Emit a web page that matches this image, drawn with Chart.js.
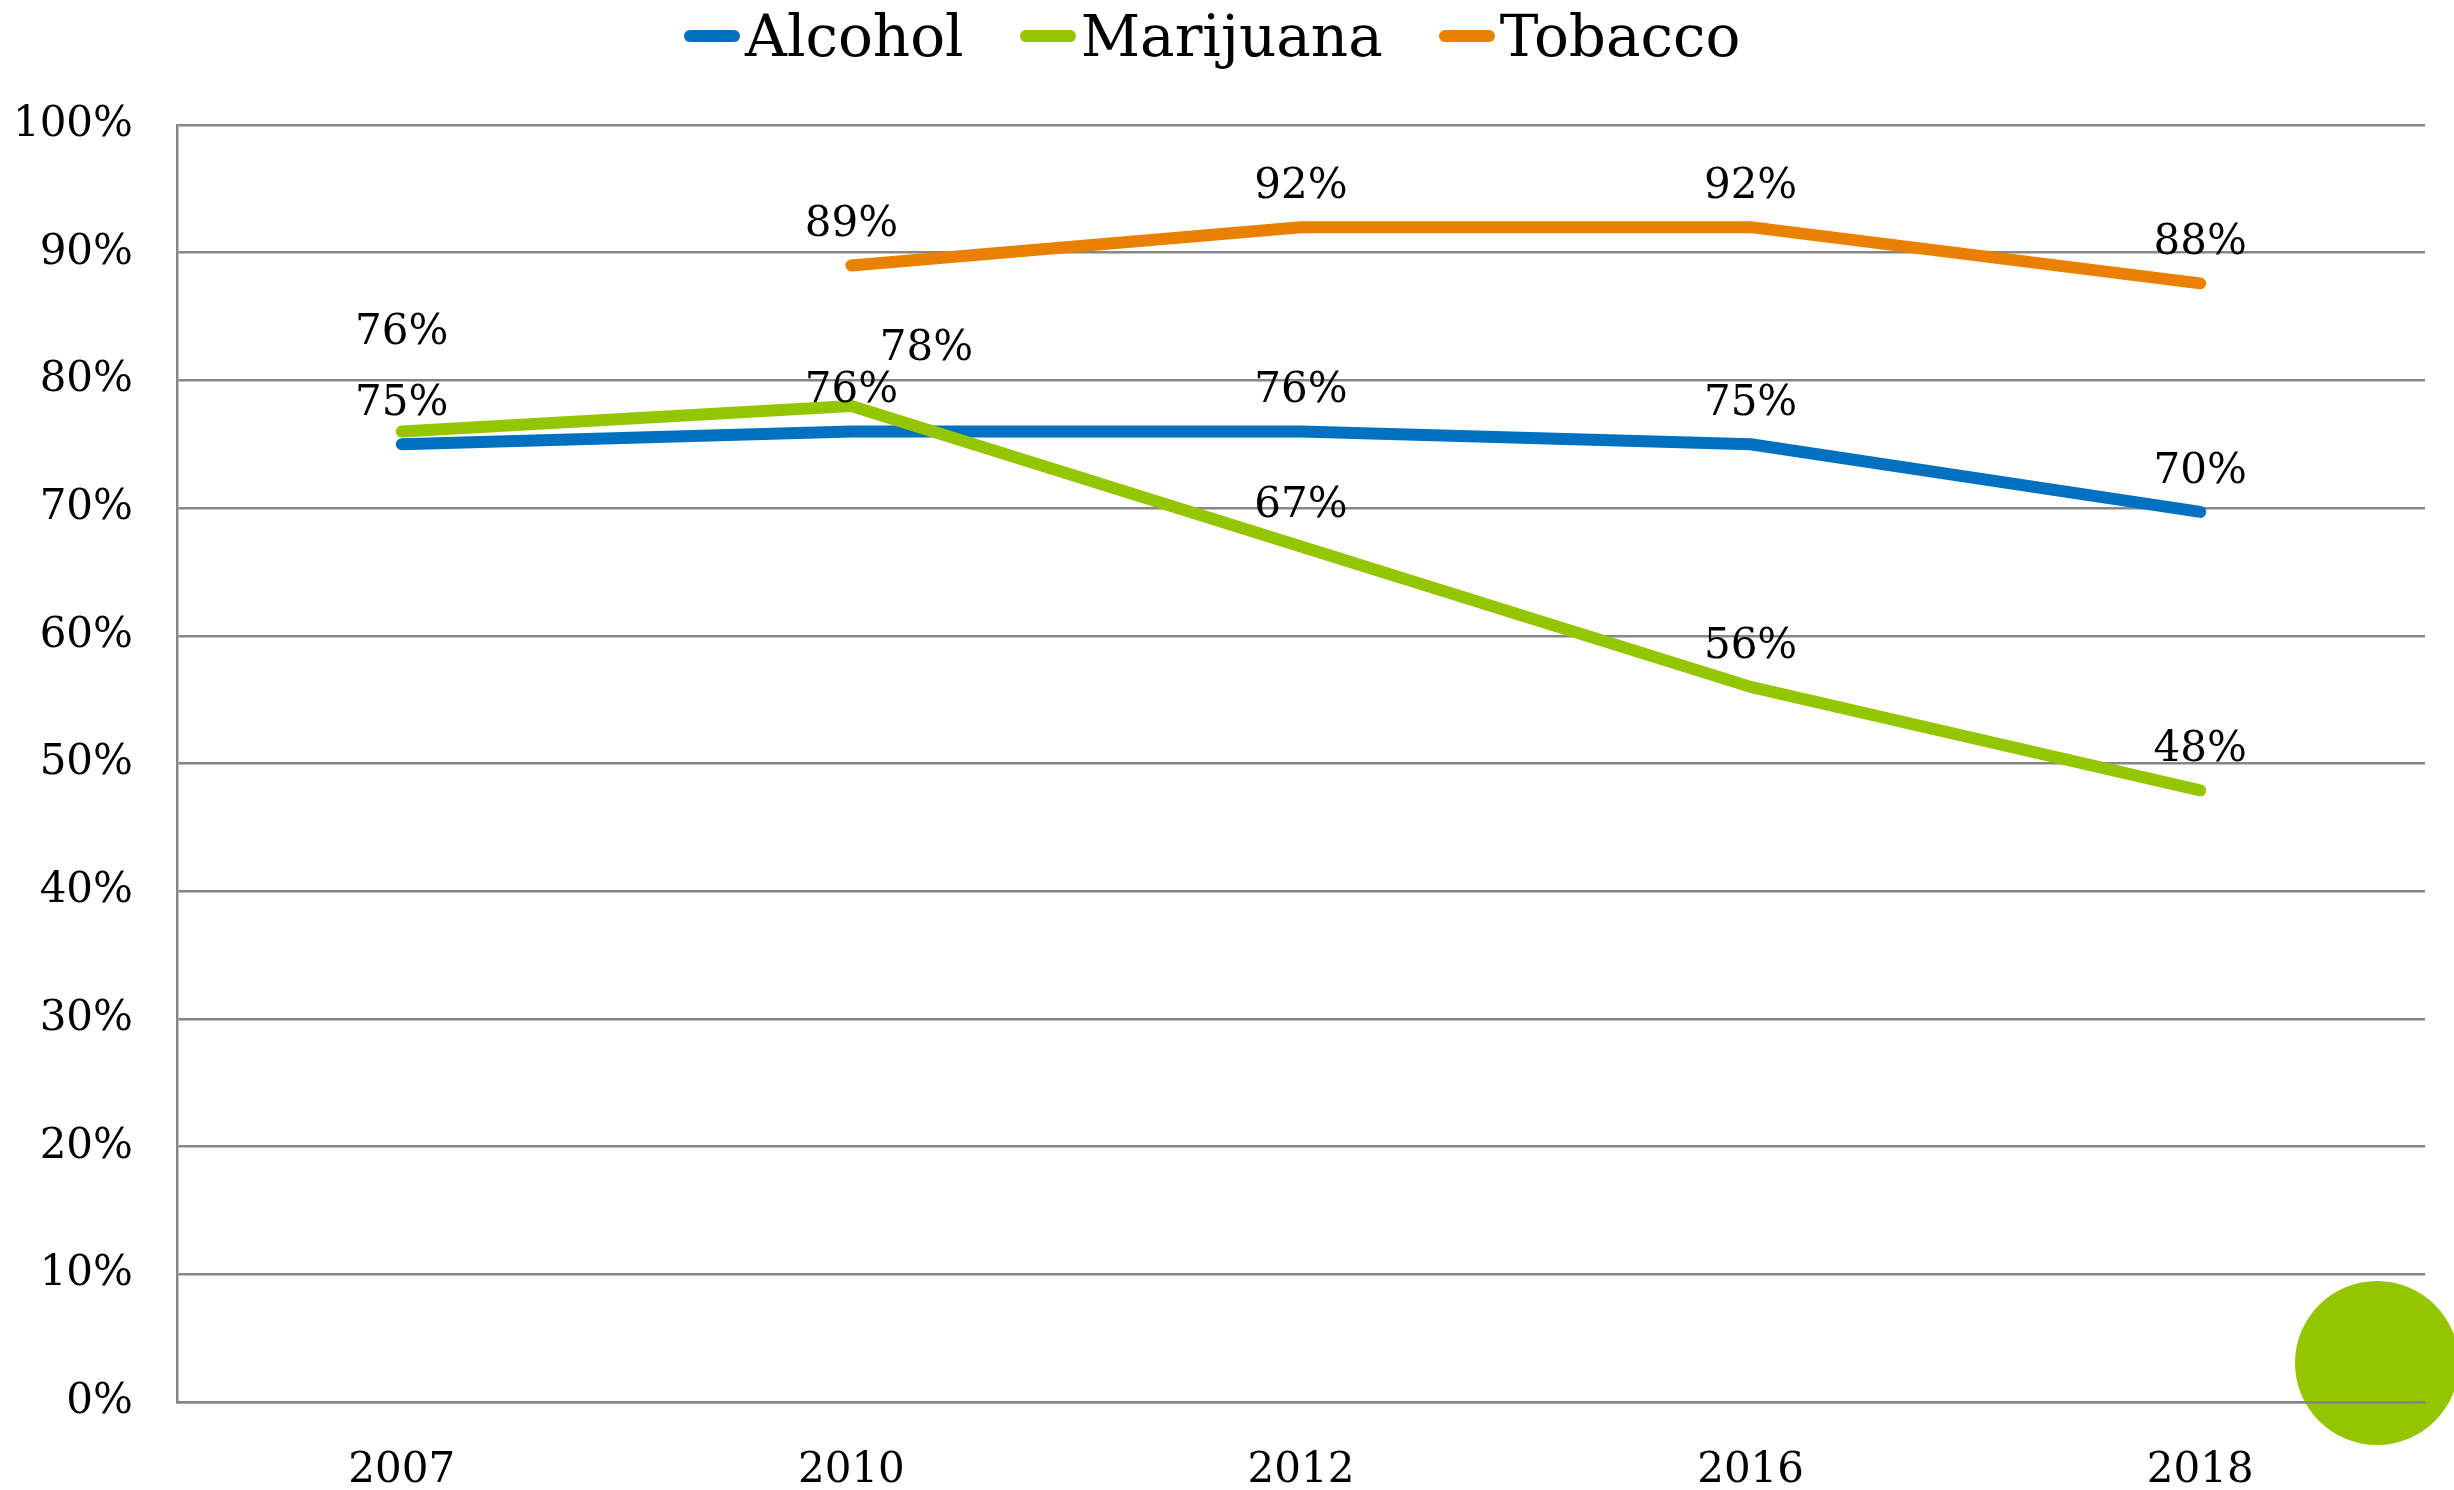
<!DOCTYPE html>
<html>
<head>
<meta charset="utf-8">
<title>Perceived risk</title>
<script src="https://cdn.jsdelivr.net/npm/chart.js@4.4.1/dist/chart.umd.min.js"></script>
<style>
    html, body { margin: 0; padding: 0; background: #fff; }
    #wrap { position: relative; width: 2454px; height: 1490px; }
    #legend {
        position: absolute; top: 0; left: 684px; height: 72px;
        display: flex; align-items: center;
        font-family: 'DejaVu Serif', serif; font-size: 58px; color: #000;
    }
    .legend-item { display: flex; align-items: center; margin-right: 56px; white-space: nowrap; }
    .legend-line { width: 56px; height: 12px; border-radius: 6px; margin-right: 5px; }
</style>
</head>
<body>
<div id="wrap">
    <div id="legend"></div>
    <canvas id="chart" width="2454" height="1490"></canvas>
</div>
<script>
// Chart data
const years = ['2007', '2010', '2012', '2016', '2018'];
const alcohol = [75, 76, 76, 75, 69.7];
const marijuana = [76, 78, 67, 56, 47.9];
const tobacco = [null, 89, 92, 92, 87.6];
const yTicks = [0, 10, 20, 30, 40, 50, 60, 70, 80, 90, 100];

const FONT = "'DejaVu Serif', serif";
const GRID = '#868686';

// Label nudges where the original moved labels by hand (dataset label -> index -> [dx, dy])
const labelNudges = {
    Marijuana: { 0: [0, -98], 1: [75, -57] }
};

// Draws the value above each point, like the office chart data labels
const valueLabels = {
    id: 'valueLabels',
    afterDatasetsDraw(chart) {
        const ctx = chart.ctx;
        ctx.save();
        ctx.font = '42px ' + FONT;
        ctx.fillStyle = '#000';
        ctx.textAlign = 'center';
        ctx.textBaseline = 'middle';
        chart.data.datasets.forEach((ds, di) => {
            const meta = chart.getDatasetMeta(di);
            meta.data.forEach((pt, i) => {
                const v = ds.data[i];
                if (v === null || v === undefined) return;
                const nudge = (labelNudges[ds.label] || {})[i] || [0, -40];
                ctx.fillText(Math.round(v) + '%', pt.x + nudge[0], pt.y + nudge[1]);
            });
        });
        ctx.restore();
    }
};

// Green decorative disc in the bottom right corner, under the grid
const cornerDisc = {
    id: 'cornerDisc',
    beforeDraw(chart) {
        const ctx = chart.ctx;
        ctx.save();
        ctx.fillStyle = '#94C600';
        ctx.beginPath();
        ctx.arc(2377, 1363, 82, 0, Math.PI * 2);
        ctx.fill();
        ctx.restore();
    }
};

const lineStyle = {
    borderWidth: 12,
    borderCapStyle: 'round',
    borderJoinStyle: 'round',
    pointRadius: 0,
    pointHoverRadius: 0,
    tension: 0,
    fill: false
};

const chart = new Chart(document.getElementById('chart'), {
    type: 'line',
    data: {
        labels: years,
        datasets: [
            { label: 'Alcohol', data: alcohol, borderColor: '#0070C0', backgroundColor: '#0070C0', order: 2, ...lineStyle },
            { label: 'Marijuana', data: marijuana, borderColor: '#94C600', backgroundColor: '#94C600', order: 1, ...lineStyle },
            { label: 'Tobacco', data: tobacco, borderColor: '#E98000', backgroundColor: '#E98000', order: 0, ...lineStyle }
        ]
    },
    options: {
        responsive: false,
        animation: false,
        devicePixelRatio: 1,
        layout: { padding: { top: 125, right: 29, bottom: 0, left: 0 } },
        scales: {
            x: {
                offset: true,
                grid: { display: false },
                border: { display: true, color: GRID, width: 2.5 },
                ticks: { color: '#000', font: { family: FONT, size: 42 }, padding: 36, maxRotation: 0 },
                afterFit(scale) { scale.height = 88; }
            },
            y: {
                min: 0,
                max: 100,
                afterBuildTicks(scale) { scale.ticks = yTicks.map(v => ({ value: v })); },
                grid: { color: GRID, lineWidth: 2.5, drawTicks: false },
                border: { display: true, color: GRID, width: 2.5 },
                ticks: {
                    color: '#000',
                    font: { family: FONT, size: 42 },
                    padding: 44,
                    callback: v => v + '%'
                },
                afterFit(scale) { scale.width = 177; }
            }
        },
        plugins: {
            legend: { display: false },
            tooltip: { enabled: false }
        }
    },
    plugins: [cornerDisc, valueLabels]
});

// HTML legend built from the datasets
const legendEl = document.getElementById('legend');
chart.data.datasets.forEach(ds => {
    const item = document.createElement('div');
    item.className = 'legend-item';
    item.innerHTML = `<span class="legend-line" style="background:${ds.borderColor}"></span><span>${ds.label}</span>`;
    legendEl.appendChild(item);
});
</script>
</body>
</html>
